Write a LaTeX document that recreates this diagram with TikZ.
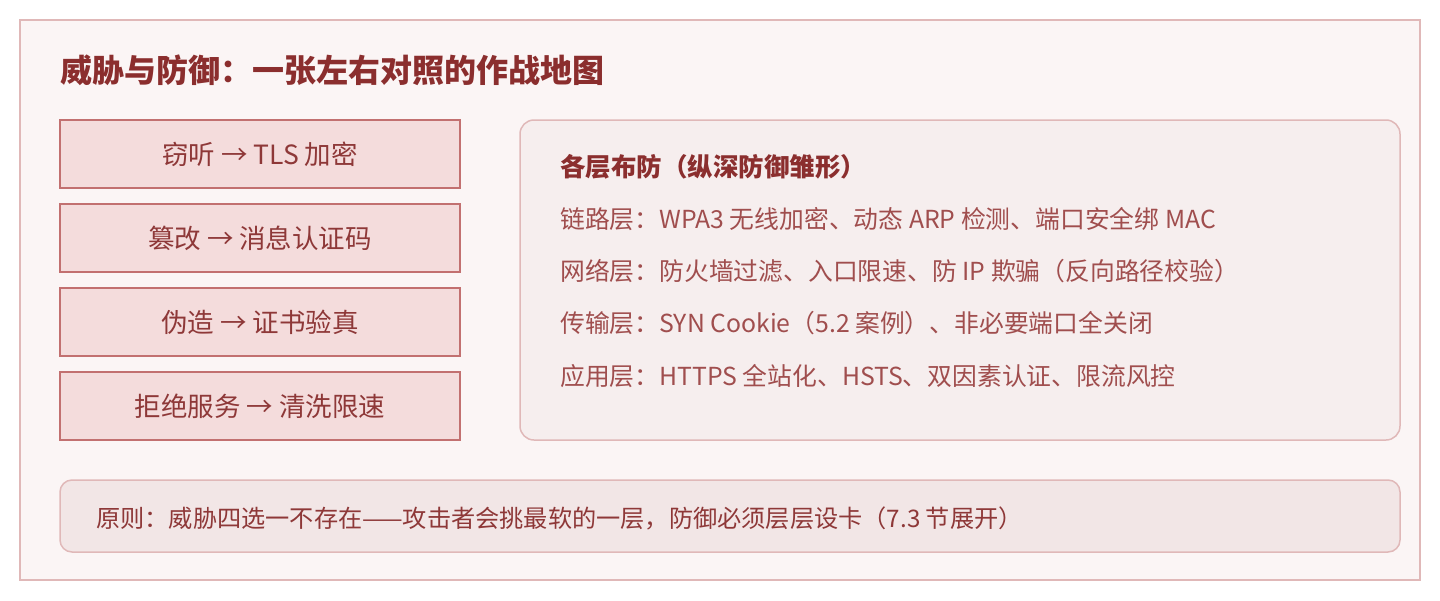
\documentclass[tikz,border=0pt]{standalone}
\usepackage{fontspec}
\setmainfont{Noto Sans CJK SC}
\definecolor{framestroke}{HTML}{E0B8B8}
\definecolor{framefill}{HTML}{FBF5F5}
\definecolor{boxfill}{HTML}{F4DCDC}
\definecolor{boxstroke}{HTML}{C27070}
\definecolor{panelfill}{HTML}{F6EEEE}
\definecolor{panelstroke}{HTML}{E0B8B8}
\definecolor{notefill}{HTML}{F2E6E6}
\definecolor{titlecol}{HTML}{8B2E2E}
\definecolor{textcol}{HTML}{8E3838}
\definecolor{bodycol}{HTML}{A04E4E}
\begin{document}
\begin{tikzpicture}[x=1pt,y=-1pt,
  threat/.style={draw=boxstroke,line width=2pt,fill=boxfill,minimum width=400pt,minimum height=68pt,inner sep=0pt,font=\fontsize{26.5}{30}\selectfont,text=textcol},
  layerline/.style={anchor=west,inner sep=0pt,font=\fontsize{24.8}{28}\selectfont,text=bodycol}]
\useasboundingbox (0,0) rectangle (1440,600);
\draw[framestroke,line width=1.5pt,fill=framefill] (20,20) rectangle (1420,580);
\node[anchor=west,inner sep=0pt,font=\bfseries\fontsize{32}{36}\selectfont,text=titlecol] (title) at (60,70) {威胁与防御：一张左右对照的作战地图};
\node[threat] (t1) at (260,154) {窃听 → TLS 加密};
\node[threat] (t2) at (260,238) {篡改 → 消息认证码};
\node[threat] (t3) at (260,322) {伪造 → 证书验真};
\node[threat] (t4) at (260,406) {拒绝服务 → 清洗限速};
\draw[panelstroke,line width=1.5pt,fill=panelfill,rounded corners=14pt] (520,120) rectangle (1400,440);
\node[anchor=west,inner sep=0pt,font=\bfseries\fontsize{25.5}{28}\selectfont,text=titlecol] (head) at (560,167) {各层布防（纵深防御雏形）};
\node[layerline] (l1) at (560,219) {链路层：WPA3 无线加密、动态 ARP 检测、端口安全绑 MAC};
\node[layerline] (l2) at (560,271) {网络层：防火墙过滤、入口限速、防 IP 欺骗（反向路径校验）};
\node[layerline] (l3) at (560,323) {传输层：SYN Cookie（5.2 案例）、非必要端口全关闭};
\node[layerline] (l4) at (560,376) {应用层：HTTPS 全站化、HSTS、双因素认证、限流风控};
\draw[panelstroke,line width=1.5pt,fill=notefill,rounded corners=12pt] (60,480) rectangle (1400,552);
\node[anchor=west,inner sep=0pt,font=\fontsize{24.2}{27}\selectfont,text=textcol] (note) at (96,518) {原则：威胁四选一不存在——攻击者会挑最软的一层，防御必须层层设卡（7.3 节展开）};
\end{tikzpicture}
\end{document}
